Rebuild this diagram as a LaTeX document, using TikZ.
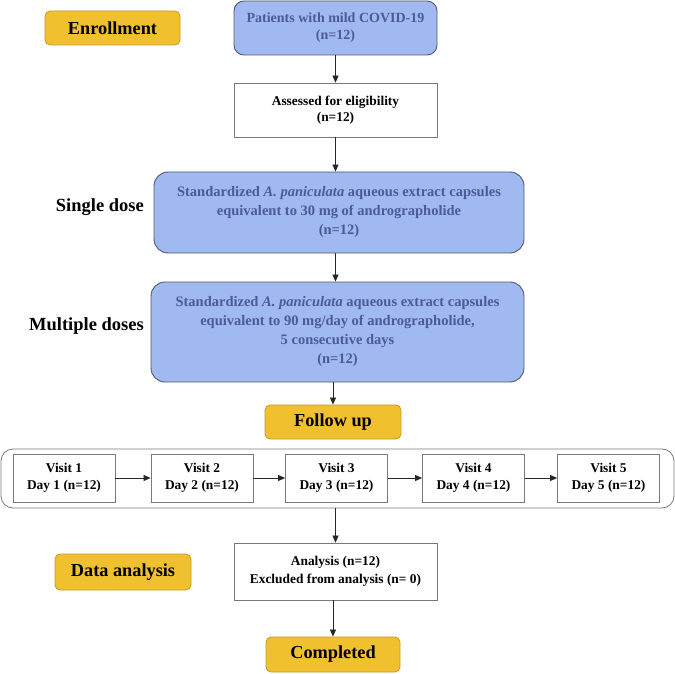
\documentclass[tikz,border=0pt]{standalone}
\usepackage{fontspec}
\setmainfont{Liberation Serif}
\usetikzlibrary{arrows.meta}

\definecolor{goldfill}{HTML}{F0C02E}
\definecolor{golddraw}{HTML}{C49A2C}
\definecolor{bluefill}{HTML}{A1B9F1}
\definecolor{bluedraw}{HTML}{50586A}
\definecolor{bluetext}{HTML}{4B5B99}
\definecolor{greydraw}{HTML}{7A7A7A}

\begin{document}
\begin{tikzpicture}[x=1pt,y=-1pt,
  stagebox/.style={draw=golddraw, fill=goldfill, rounded corners=5pt, line width=0.8pt,
    font=\bfseries\fontsize{18.3}{22}\selectfont, inner sep=0pt},
  dosebox/.style={draw=bluedraw, fill=bluefill, rounded corners=14pt, line width=0.9pt,
    text=bluetext, align=center, font=\bfseries\fontsize{14.5}{19}\selectfont, inner sep=0pt},
  plainbox/.style={draw=greydraw, fill=white, line width=0.8pt, align=center,
    font=\bfseries\fontsize{13.4}{16.5}\selectfont, inner sep=0pt},
  sidelabel/.style={font=\bfseries\fontsize{18.5}{22}\selectfont, anchor=east, inner sep=0pt},
  rowframe/.style={draw=greydraw, line width=0.8pt, rounded corners=12pt, inner sep=0pt},
  flow/.style={draw=black!85, line width=0.7pt, -{Triangle[length=7pt,width=6pt]}}
]
\useasboundingbox (0,0) rectangle (675,674);

% stage labels
\node[stagebox, minimum width=135pt, minimum height=34pt] (enroll) at (112.5,28) {Enrollment};
\node[sidelabel] (single) at (144,207) {Single dose};
\node[sidelabel] (multiple) at (144,326) {Multiple doses};
\node[stagebox, minimum width=136pt, minimum height=34pt] (followup) at (333,422) {Follow up};
\node[stagebox, minimum width=136pt, minimum height=36pt] (dataan) at (123,572) {Data analysis};
\node[stagebox, minimum width=134pt, minimum height=35pt] (done) at (333,654.5) {Completed};

% main column
\node[dosebox, rounded corners=10pt, minimum width=203pt, minimum height=54pt,
      font=\bfseries\fontsize{14}{17}\selectfont] (patients) at (335.5,28)
  {Patients with mild COVID-19\\(n=12)};
\node[plainbox, minimum width=203pt, minimum height=54pt] (assess) at (335.5,110)
  {Assessed for eligibility\\(n=12)};
\node[dosebox, minimum width=370pt, minimum height=81pt] (dose1) at (339,212.5)
  {Standardized \textit{A. paniculata} aqueous extract capsules\\
   equivalent to 30 mg of andrographolide\\(n=12)};
\node[dosebox, minimum width=373pt, minimum height=100pt] (dose5) at (337.5,332)
  {Standardized \textit{A. paniculata} aqueous extract capsules\\
   equivalent to 90 mg/day of andrographolide,\\5 consecutive days\\(n=12)};

% follow-up visits
\node[rowframe, minimum width=673pt, minimum height=59pt] (visits) at (337.5,478.5) {};
\foreach \i/\x in {1/64,2/202,3/336.5,4/473.5,5/608.5}
  \node[plainbox, minimum width=102pt, minimum height=48pt] (v\i) at (\x,478)
    {Visit \i\\Day \i{} (n=12)};

\node[plainbox, minimum width=203pt, minimum height=57pt,
      font=\bfseries\fontsize{13.4}{18.5}\selectfont] (analysis) at (335.5,571.5)
  {Analysis (n=12)\\Excluded from analysis (n= 0)};

% connectors
\draw[flow] (patients.south) -- (patients.south |- assess.north);
\draw[flow] (assess.south) -- (assess.south |- dose1.north);
\draw[flow] (assess.south |- dose1.south) -- (assess.south |- dose5.north);
\draw[flow] (followup.north |- dose5.south) -- (followup.north);
\foreach \a/\b in {1/2,2/3,3/4,4/5}
  \draw[flow] (v\a.east) -- (v\b.west);
\draw[flow] (analysis.north |- visits.south) -- (analysis.north);
\draw[flow] (done.north |- analysis.south) -- (done.north);
\end{tikzpicture}
\end{document}
